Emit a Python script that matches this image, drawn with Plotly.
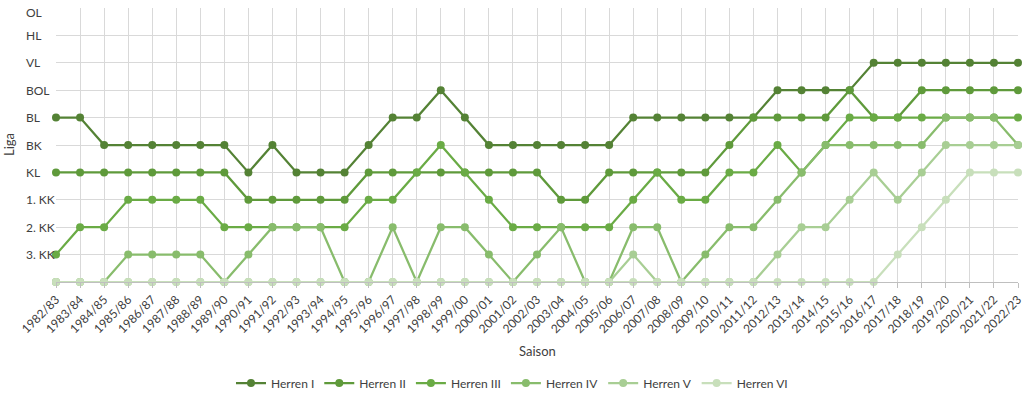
import plotly.graph_objects as go

seasons = ["1982/83", "1983/84", "1984/85", "1985/86", "1986/87", "1987/88", "1988/89",
           "1989/90", "1990/91", "1991/92", "1992/93", "1993/94", "1994/95", "1995/96",
           "1996/97", "1997/98", "1998/99", "1999/00", "2000/01", "2001/02", "2002/03",
           "2003/04", "2004/05", "2005/06", "2006/07", "2007/08", "2008/09", "2009/10",
           "2010/11", "2011/12", "2012/13", "2013/14", "2014/15", "2015/16", "2016/17",
           "2017/18", "2018/19", "2019/20", "2020/21", "2021/22", "2022/23"]

league_labels = ["", "3. KK", "2. KK", "1. KK", "KL", "BK", "BL", "BOL", "VL", "HL", "OL"]

herren_1 = [6, 6, 5, 5, 5, 5, 5, 5, 4, 5, 4, 4, 4, 5, 6, 6, 7, 6, 5, 5, 5, 5, 5, 5,
            6, 6, 6, 6, 6, 6, 7, 7, 7, 7, 8, 8, 8, 8, 8, 8, 8]
herren_2 = [4, 4, 4, 4, 4, 4, 4, 4, 3, 3, 3, 3, 3, 4, 4, 4, 4, 4, 4, 4, 4, 3, 3, 4,
            4, 4, 4, 4, 5, 6, 6, 6, 6, 7, 6, 6, 7, 7, 7, 7, 7]
herren_3 = [1, 2, 2, 3, 3, 3, 3, 2, 2, 2, 2, 2, 2, 3, 3, 4, 5, 4, 3, 2, 2, 2, 2, 2,
            3, 4, 3, 3, 4, 4, 5, 4, 5, 6, 6, 6, 6, 6, 6, 6, 6]
herren_4 = [0, 0, 0, 1, 1, 1, 1, 0, 1, 2, 2, 2, 0, 0, 2, 0, 2, 2, 1, 0, 1, 2, 0, 0,
            2, 2, 0, 1, 2, 2, 3, 4, 5, 5, 5, 5, 5, 6, 6, 6, 5]
herren_5 = [0, 0, 0, 0, 0, 0, 0, 0, 0, 0, 0, 0, 0, 0, 0, 0, 0, 0, 0, 0, 0, 0, 0, 0,
            1, 0, 0, 0, 0, 0, 1, 2, 2, 3, 4, 3, 4, 5, 5, 5, 5]
herren_6 = [0, 0, 0, 0, 0, 0, 0, 0, 0, 0, 0, 0, 0, 0, 0, 0, 0, 0, 0, 0, 0, 0, 0, 0,
            0, 0, 0, 0, 0, 0, 0, 0, 0, 0, 0, 1, 2, 3, 4, 4, 4]

series_names = ["Herren I", "Herren II", "Herren III", "Herren IV", "Herren V", "Herren VI"]
series_values = [herren_1, herren_2, herren_3, herren_4, herren_5, herren_6]
colors = ["#548235", "#5f9a3b", "#6aab45", "#88bc6c", "#a8ce94", "#c8dfbb"]

FONT = "Lato, 'Open Sans', sans-serif"
TXT = "#404040"

fig = go.Figure()
for name, vals, col in zip(series_names, series_values, colors):
    fig.add_trace(go.Scatter(
        x=seasons, y=vals, name=name, mode="lines+markers",
        line=dict(color=col, width=2.25),
        marker=dict(color=col, size=8),
        cliponaxis=False,
    ))

# y-axis labels, left-aligned like the original, positioned through the y scale
annotations = []
for lvl, lab in enumerate(league_labels):
    if not lab:
        continue
    annotations.append(dict(
        text=lab, x=-0.0333, y=lvl, xref="paper", yref="y",
        xanchor="left", yanchor="middle", showarrow=False,
        yshift=-4 if lvl == len(league_labels) - 1 else 0,
        font=dict(family=FONT, size=12, color=TXT)))

annotations += [
    dict(text="Saison", x=0.5, y=-0.252, xref="paper", yref="paper",
         xanchor="center", yanchor="middle", showarrow=False,
         font=dict(family=FONT, size=13, color=TXT)),
    dict(text="Liga", x=-0.049, y=0.503, xref="paper", yref="paper",
         xanchor="center", yanchor="middle", showarrow=False, textangle=-90,
         font=dict(family=FONT, size=13, color=TXT)),
]

fig.update_layout(
    width=1024, height=399,
    margin=dict(l=56, r=6, t=8, b=117, autoexpand=False),
    paper_bgcolor="white", plot_bgcolor="white",
    font=dict(family=FONT, size=12, color=TXT),
    showlegend=True,
    legend=dict(orientation="h", x=0.474, xanchor="center", y=-0.369, yanchor="middle",
                font=dict(family=FONT, size=12, color=TXT),
                itemwidth=30, tracegroupgap=0),
    annotations=annotations,
)
fig.update_xaxes(
    type="category", range=[0, len(seasons) - 1],
    tickangle=-45, showgrid=True, gridcolor="#d9d9d9", gridwidth=1,
    showline=True, linecolor="#bfbfbf", linewidth=1,
    ticks="outside", ticklen=5, tickcolor="#bfbfbf",
    tickfont=dict(family=FONT, size=12, color=TXT),
    zeroline=False,
)
fig.update_yaxes(
    range=[0, 10], tickvals=list(range(len(league_labels))),
    showticklabels=False,
    showgrid=True, gridcolor="#d9d9d9", gridwidth=1, zeroline=False,
    showline=False, ticks="",
)

# remove the browser's default 8px page margin so the figure fills the window
fig.write_html("out.html",
               config={"displayModeBar": False},
               post_script="document.body.style.margin='0';document.body.style.overflow='hidden';")
